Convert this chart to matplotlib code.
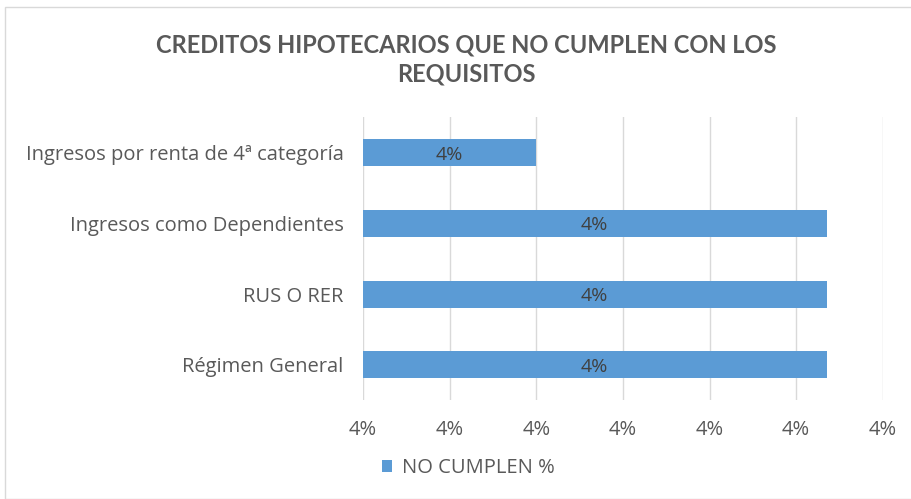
import matplotlib.pyplot as plt
from matplotlib.ticker import FuncFormatter
from matplotlib.patches import Rectangle

categorias = ['Ingresos por renta de 4ª categoría', 'Ingresos como Dependientes',
              'RUS O RER', 'Régimen General']
no_cumplen = [0.0402, 0.040535, 0.040535, 0.040535]
ticks = [0.0400, 0.0401, 0.0402, 0.0403, 0.0404, 0.0405, 0.0406]

plt.rcParams['font.family'] = ['Open Sans', 'DejaVu Sans']
gris = '#595959'
azul = '#5B9BD5'

fig = plt.figure(figsize=(9.12, 4.99), dpi=100)
ax = fig.add_axes([0.398, 0.198, 0.570, 0.567])

y = list(range(len(categorias)))
ax.barh(y, [v - ticks[0] for v in no_cumplen], left=ticks[0], height=0.38,
        color=azul, label='NO CUMPLEN %', zorder=3)
for yi, v in zip(y, no_cumplen):
    ax.text((ticks[0] + v) / 2, yi, '{:.0%}'.format(v), ha='center', va='center_baseline',
            fontsize=14, color='#404040', zorder=4)

ax.set_ylim(3.5, -0.5)
ax.set_xlim(ticks[0], ticks[-1])
ax.set_yticks(y)
ax.set_yticklabels(categorias, fontsize=14.5, color=gris)
ax.set_xticks(ticks)
ax.xaxis.set_major_formatter(FuncFormatter(lambda v, p: '{:.0%}'.format(v)))
ax.tick_params(axis='x', labelsize=14.5, labelcolor=gris, length=0, pad=14)
ax.tick_params(axis='y', length=0, pad=14)
ax.grid(axis='x', color='#d9d9d9', linewidth=1, zorder=0)
for s in ax.spines.values():
    s.set_visible(False)

fig.text(0.511, 0.91, 'CREDITOS HIPOTECARIOS QUE NO CUMPLEN CON LOS',
         ha='center', va='center', fontsize=17, fontweight='bold', color=gris,
         family=['Lato', 'DejaVu Sans'])
fig.text(0.511, 0.852, 'REQUISITOS',
         ha='center', va='center', fontsize=17, fontweight='bold', color=gris,
         family=['Lato', 'DejaVu Sans'])

fig.legend(loc='center', bbox_to_anchor=(0.514, 0.062), frameon=False,
           fontsize=14.5, labelcolor=gris, handlelength=0.5, handleheight=0.5,
           handletextpad=0.5)

fig.patches.append(Rectangle((0.005, 0.0), 0.995, 0.985, transform=fig.transFigure,
                             fill=False, edgecolor='#d9d9d9', linewidth=1))

plt.savefig('out.png', dpi=100)
